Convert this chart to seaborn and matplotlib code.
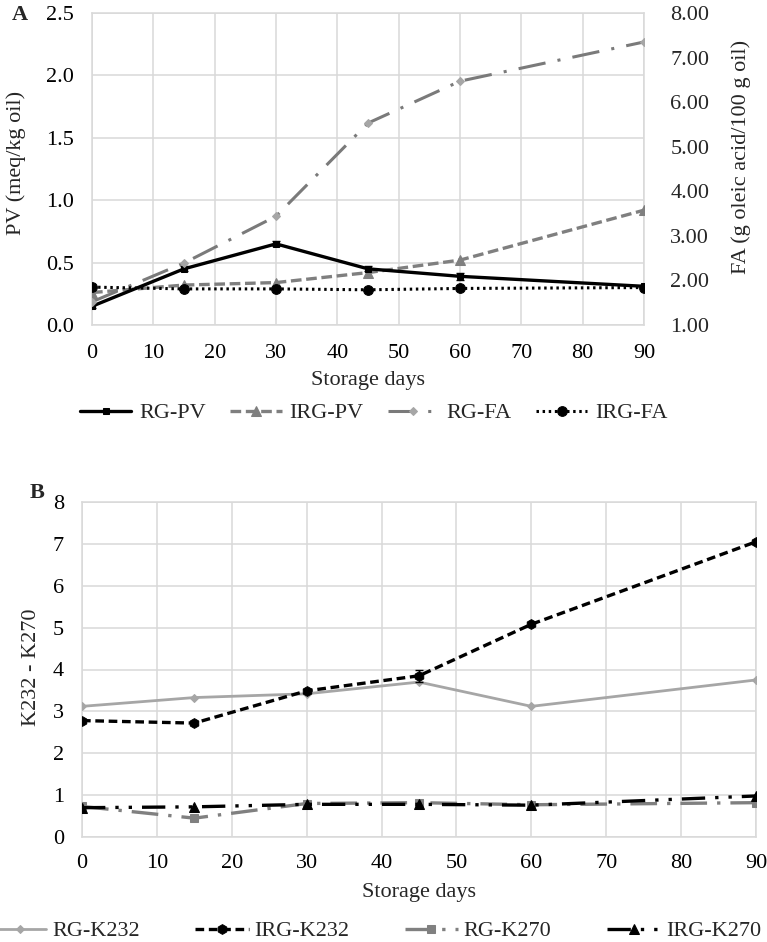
import matplotlib
matplotlib.use("Agg")
import matplotlib.pyplot as plt
import seaborn as sns
import numpy as np
import pandas as pd

# ---------------- data ----------------
days = [0, 15, 30, 45, 60, 90]

rg_pv = [0.15, 0.45, 0.65, 0.45, 0.39, 0.31]
rg_pv_err = [0.01, 0.02, 0.02, 0.02, 0.03, 0.01]
irg_pv = [0.26, 0.32, 0.34, 0.42, 0.52, 0.92]
rg_fa = [1.52, 2.39, 3.44, 5.53, 6.47, 7.35]
irg_fa = [1.85, 1.81, 1.81, 1.79, 1.82, 1.84]

rg_k232 = [3.12, 3.33, 3.42, 3.70, 3.12, 3.75]
irg_k232 = [2.78, 2.72, 3.49, 3.85, 5.08, 7.05]
irg_k232_err = [0.03, 0.03, 0.05, 0.15, 0.04, 0.04]
rg_k270 = [0.73, 0.45, 0.80, 0.82, 0.77, 0.82]
irg_k270 = [0.70, 0.72, 0.78, 0.78, 0.76, 0.98]

x_ticks = [0, 10, 20, 30, 40, 50, 60, 70, 80, 90]
pv_ticks = [0.0, 0.5, 1.0, 1.5, 2.0, 2.5]
fa_ticks = [1, 2, 3, 4, 5, 6, 7, 8]
k_ticks = [0, 1, 2, 3, 4, 5, 6, 7, 8]

# ---------------- style ----------------
sns.set_style("white")
plt.rcParams["font.family"] = ["Liberation Serif", "DejaVu Serif"]
plt.rcParams["font.size"] = 16

W, H = 767, 942
fig = plt.figure(figsize=(W / 100, H / 100), dpi=100)

GRID = "#D9D9D9"
FS = 16


def px_rect(l, t, r, b):
    return [l / W, 1 - b / H, (r - l) / W, (b - t) / H]


def style_axes(ax):
    ax.set_xlim(0, 90)
    ax.set_xticks(x_ticks)
    ax.grid(True, color=GRID, lw=1.1)
    ax.set_axisbelow(True)
    for s in ax.spines.values():
        s.set_color(GRID)
        s.set_linewidth(1.1)
    ax.tick_params(length=0, labelsize=FS, colors="black")
    ax.set_xlabel("")
    ax.set_ylabel("")


# ---------------- panel A ----------------
axA = fig.add_axes(px_rect(92, 13, 644, 325))
axA2 = axA.twinx()

dfA = pd.DataFrame({"day": days, "rg_pv": rg_pv, "irg_pv": irg_pv,
                    "rg_fa": rg_fa, "irg_fa": irg_fa})

axA.errorbar(days, rg_pv, yerr=rg_pv_err, fmt="none", ecolor="black",
             elinewidth=1, capsize=3, zorder=3)
sns.lineplot(data=dfA, x="day", y="irg_pv", ax=axA, color="#7F7F7F",
             linestyle=(0, (3.2, 1.4)), lw=2.4, marker="^", markersize=6.5,
             markeredgecolor="#7F7F7F", label="IRG-PV", zorder=4)
sns.lineplot(data=dfA, x="day", y="rg_pv", ax=axA, color="black",
             linestyle="-", lw=2.4, marker="s", markersize=5,
             markeredgecolor="black", label="RG-PV", zorder=5)

sns.lineplot(data=dfA, x="day", y="rg_fa", ax=axA2, color="#7A7A7A",
             linestyle=(0, (9, 4, 1, 4)), lw=2.2, marker="D", markersize=4.5,
             markerfacecolor="#A6A6A6", markeredgecolor="#A6A6A6",
             label="RG-FA", zorder=4)
sns.lineplot(data=dfA, x="day", y="irg_fa", ax=axA2, color="black",
             linestyle=(0, (0.8, 1.2)), lw=2.2, marker="o", markersize=7,
             markeredgecolor="black", label="IRG-FA", zorder=5)

style_axes(axA)
axA.set_ylim(0, 2.5)
axA.set_yticks(pv_ticks)
axA.set_yticklabels([f"{v:.1f}" for v in pv_ticks])
axA.tick_params(axis="y", pad=13)
axA.tick_params(axis="x", pad=14)

axA2.set_ylim(1, 8)
axA2.set_yticks(fa_ticks)
axA2.set_yticklabels([f"{v:.2f}" for v in fa_ticks])
axA2.grid(False)
for s in axA2.spines.values():
    s.set_visible(False)
axA2.tick_params(length=0, labelsize=FS, pad=19)
axA2.set_ylabel("")
if axA.get_legend():
    axA.get_legend().remove()
if axA2.get_legend():
    axA2.get_legend().remove()

hA1, lA1 = axA.get_legend_handles_labels()
hA2, lA2 = axA2.get_legend_handles_labels()
handlesA = dict(zip(lA1 + lA2, hA1 + hA2))
orderA = ["RG-PV", "IRG-PV", "RG-FA", "IRG-FA"]
fig.legend([handlesA[k] for k in orderA], orderA, loc="center",
           bbox_to_anchor=(374 / W, 1 - 413 / H), ncol=4, frameon=False,
           fontsize=FS, handlelength=2.3, handletextpad=0.35,
           columnspacing=1.1, borderpad=0)

fig.text(16 / W, 1 - 163 / H, "PV (meq/kg oil)", rotation=90,
         ha="center", va="center", fontsize=FS)
fig.text(741 / W, 1 - 157 / H, "FA (g oleic acid/100 g oil)", rotation=90,
         ha="center", va="center", fontsize=FS)
fig.text(368 / W, 1 - 381 / H, "Storage days", ha="center", va="center",
         fontsize=FS)
fig.text(20 / W, 1 - 15 / H, "A", ha="center", va="center", fontsize=FS,
         fontweight="bold")

# ---------------- panel B ----------------
axB = fig.add_axes(px_rect(82, 502, 756, 837))
dfB = pd.DataFrame({"day": days, "rg_k232": rg_k232, "irg_k232": irg_k232,
                    "rg_k270": rg_k270, "irg_k270": irg_k270})

sns.lineplot(data=dfB, x="day", y="rg_k232", ax=axB, color="#A6A6A6",
             linestyle="-", lw=2.0, marker="D", markersize=4.5,
             markeredgecolor="#A6A6A6", label="RG-K232", zorder=3)
axB.errorbar(days, irg_k232, yerr=irg_k232_err, fmt="none", ecolor="black",
             elinewidth=1, capsize=3, zorder=4)
sns.lineplot(data=dfB, x="day", y="irg_k232", ax=axB, color="black",
             linestyle=(0, (2.6, 1.4)), lw=2.4, marker="h", markersize=7,
             markeredgecolor="black", label="IRG-K232", zorder=5)
sns.lineplot(data=dfB, x="day", y="rg_k270", ax=axB, color="#808080",
             linestyle=(0, (8, 3, 1, 3)), lw=2.4, marker="s", markersize=6,
             markeredgecolor="#808080", label="RG-K270", zorder=4)
sns.lineplot(data=dfB, x="day", y="irg_k270", ax=axB, color="black",
             linestyle=(0, (7, 3, 1, 3, 1, 3)), lw=2.4, marker="^",
             markersize=6.5, markeredgecolor="black", label="IRG-K270",
             zorder=5)

style_axes(axB)
axB.set_ylim(0, 8)
axB.set_yticks(k_ticks)
axB.tick_params(axis="y", pad=13)
axB.tick_params(axis="x", pad=12)
if axB.get_legend():
    axB.get_legend().remove()

hB, lB = axB.get_legend_handles_labels()
handlesB = dict(zip(lB, hB))
orderB = ["RG-K232", "IRG-K232", "RG-K270", "IRG-K270"]
fig.legend([handlesB[k] for k in orderB], orderB, loc="center",
           bbox_to_anchor=(377 / W, 1 - 931 / H), ncol=4, frameon=False,
           fontsize=FS, handlelength=2.4, handletextpad=0.25,
           columnspacing=2.5, borderpad=0)

fig.text(32 / W, 1 - 667 / H, "K232 - K270", rotation=90,
         ha="center", va="center", fontsize=FS)
fig.text(419 / W, 1 - 893 / H, "Storage days", ha="center", va="center",
         fontsize=FS)
fig.text(37 / W, 1 - 493 / H, "B", ha="center", va="center", fontsize=FS,
         fontweight="bold")

fig.savefig("out.png", dpi=100)
